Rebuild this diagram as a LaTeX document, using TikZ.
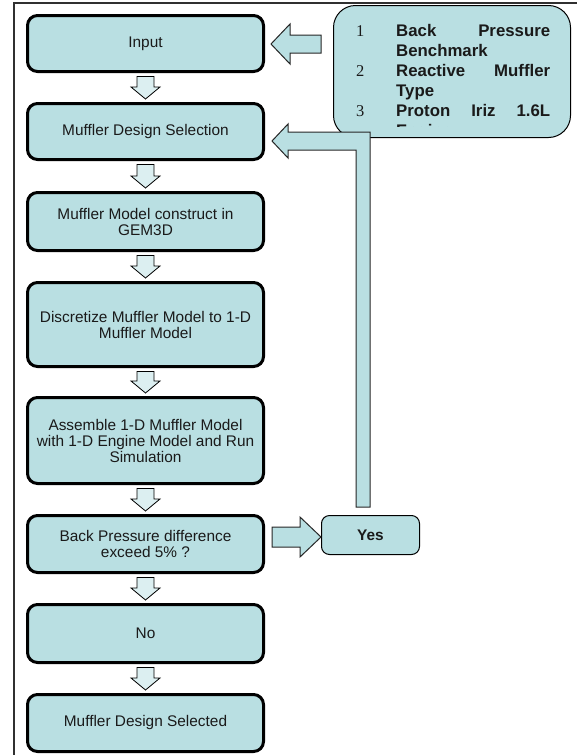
\documentclass[tikz,border=0pt]{standalone}
\usepackage{fontspec}
\setmainfont{Liberation Sans}
\newfontfamily\numfont{Liberation Serif}
\usetikzlibrary{calc}
\definecolor{boxfill}{HTML}{B9DFE2}
\definecolor{arrfill}{HTML}{DCEFF1}
\definecolor{textcol}{HTML}{1A1A1A}
\definecolor{framecol}{HTML}{303030}
\tikzset{
  mbox/.style={draw=black, line width=3pt, rounded corners=10pt, fill=boxfill,
    align=center, font=\fontsize{15.4}{16}\selectfont, text=textcol, inner sep=0pt,
    minimum width=236pt},
  ibox/.style={draw=black, line width=1pt, rounded corners=22pt, fill=boxfill,
    minimum width=237pt, minimum height=132pt, inner sep=0pt},
  ybox/.style={draw=black, line width=1pt, rounded corners=8pt, fill=boxfill,
    minimum width=98pt, minimum height=39pt, inner sep=0pt,
    font=\fontsize{15.4}{16}\selectfont\bfseries, text=textcol},
  arr/.style={draw=black, line width=0.8pt, fill=arrfill, line join=miter},
  barr/.style={draw=black!85, line width=1pt, fill=boxfill, line join=miter},
  itxt/.style={anchor=base west, inner sep=0pt, font=\fontsize{16.8}{20}\selectfont\bfseries, text=textcol},
  inum/.style={anchor=base west, inner sep=0pt, font=\fontsize{16.5}{20}\selectfont\numfont, text=textcol},
  frame/.style={draw=framecol, line width=1.3pt}
}
\newcommand\dnarrow[2]{%
  \draw[arr] ($(#1.south)+(-8.5,3.5)$) -- ($(#1.south)+(8.5,3.5)$)
    -- ($(#2.north)+(8.5,-15)$) -- ($(#2.north)+(14.5,-15)$)
    -- ($(#2.north)+(0,-3)$) -- ($(#2.north)+(-14.5,-15)$)
    -- ($(#2.north)+(-8.5,-15)$) -- cycle;}
\begin{document}
\begin{tikzpicture}[x=1pt,y=-1pt]
\useasboundingbox (0,0) rectangle (576,755);
% frame
\draw[frame] (14,756) -- (14,3) -- (577,3);
% info box
\node[ibox] (info) at (452,71.5) {};
\begin{scope}
  \clip (330,0) rectangle (576,126);
  \node[inum] (n1) at (356,36) {1};
  \node[itxt] (t1a) at (396,36) {\makebox[154pt][s]{Back\hfill Pressure}};
  \node[itxt] (t1b) at (396,56) {Benchmark};
  \node[inum] (n2) at (356,76) {2};
  \node[itxt] (t2a) at (396,76) {\makebox[154pt][s]{Reactive\hfill Muffler}};
  \node[itxt] (t2b) at (396,96) {Type};
  \node[inum] (n3) at (356,116) {3};
  \node[itxt] (t3a) at (396,116) {\makebox[154pt][s]{Proton\hfill Iriz\hfill 1.6L}};
  \node[itxt] (t3b) at (396,136) {Engine};
\end{scope}
% main boxes
\node[mbox, minimum height=56pt] (b1) at (145.5,43.5) {Input};
\node[mbox, minimum height=56pt] (b2) at (145.5,131.5) {Muffler Design Selection};
\node[mbox, minimum height=58pt] (b3) at (145.5,221.5) {Muffler Model construct in\\GEM3D};
\node[mbox, minimum height=84pt] (b4) at (145.5,324.5) {Discretize Muffler Model to 1-D\\Muffler Model};
\node[mbox, minimum height=86pt] (b5) at (145.5,440.5) {Assemble 1-D Muffler Model\\with 1-D Engine Model and Run\\Simulation};
\node[mbox, minimum height=57pt] (b6) at (145.5,544) {Back Pressure difference\\exceed 5\% ?};
\node[mbox, minimum height=58pt] (b7) at (145.5,633.5) {No};
\node[mbox, minimum height=57pt] (b8) at (145.5,723) {Muffler Design Selected};
\node[ybox] (yes) at (370.5,535) {Yes};
% down arrows
\dnarrow{b1}{b2}
\dnarrow{b2}{b3}
\dnarrow{b3}{b4}
\dnarrow{b4}{b5}
\dnarrow{b5}{b6}
\dnarrow{b6}{b7}
\dnarrow{b7}{b8}
% input arrow (info -> Input)
\coordinate (iT) at ($(b1.east)+(6,0.5)$);
\draw[barr] (iT) -- ++(19,-20) -- ++(0,11) -- ++(31,0) -- ++(0,18) -- ++(-31,0) -- ++(0,11) -- cycle;
% feedback arrow (Yes -> Muffler Design Selection)
\coordinate (fT) at ($(b2.east)+(7,9.5)$);
\coordinate (fB) at ($(yes.north)+(-0.5,-8)$);
\draw[barr] (fT) -- ($(fT)+(16,-17)$) -- ($(fT)+(16,-9)$) -- ($(fB|-fT)+(0,-9)$)
  -- (fB) -- ($(fB)+(-14,0)$) -- ($(fB|-fT)+(-14,9)$) -- ($(fT)+(16,9)$)
  -- ($(fT)+(16,17)$) -- cycle;
% yes arrow (decision -> Yes)
\coordinate (yT) at ($(yes.west)+(0,2)$);
\draw[barr] (yT) -- ++(-21,-20) -- ++(0,10) -- ++(-28,0) -- ++(0,20) -- ++(28,0) -- ++(0,10) -- cycle;
\end{tikzpicture}
\end{document}
